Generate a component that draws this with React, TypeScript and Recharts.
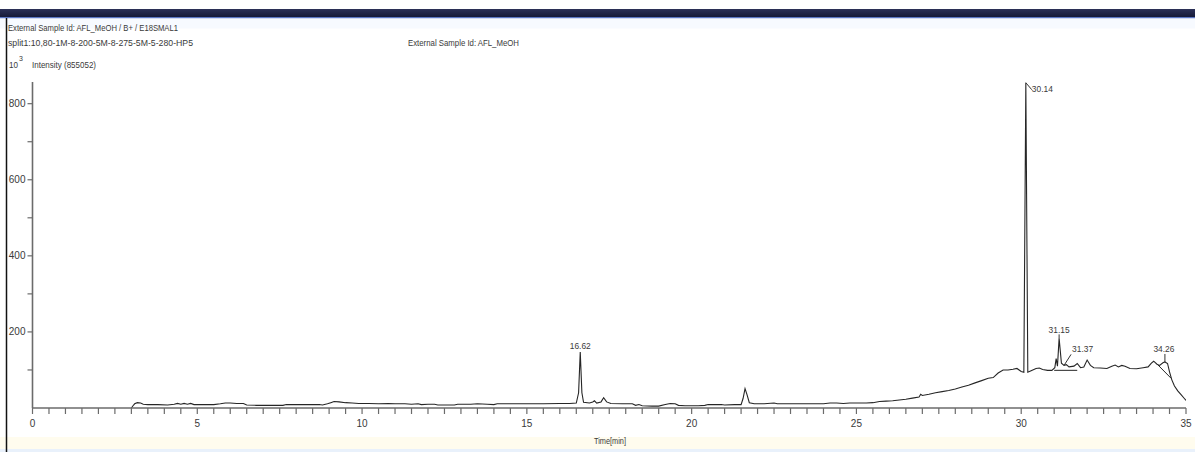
import React from 'react';
import { LineChart, Line, XAxis, YAxis, ReferenceDot } from 'recharts';

// chromatogram trace, time in minutes, intensity in 10^3 counts
const times = [
  3.0, 3.05, 3.1, 3.18, 3.28, 3.36, 3.5, 3.8, 4.1, 4.3, 4.4, 4.5, 4.6, 4.7, 4.8, 4.9,
  5.2, 5.5, 5.7, 5.85, 6.0, 6.2, 6.4, 6.5, 6.8, 7.2, 7.6, 7.7, 8.0, 8.4, 8.7, 8.8,
  8.95, 9.05, 9.15, 9.3, 9.5, 9.7, 9.9, 10.2, 10.5, 10.8, 11.0, 11.3, 11.5, 11.7, 11.8,
  12.0, 12.2, 12.3, 12.8, 12.9, 13.3, 13.5, 13.8, 14.0, 14.1, 14.5, 15.0, 15.5, 16.0,
  16.3, 16.5, 16.57, 16.62, 16.67, 16.72, 16.9, 17.0, 17.05, 17.12, 17.25, 17.33, 17.42,
  17.55, 17.9, 18.2, 18.3, 18.4, 18.5, 18.8, 19.0, 19.2, 19.35, 19.5, 19.6, 19.8, 20.2,
  20.4, 20.5, 20.9, 21.0, 21.3, 21.5, 21.56, 21.62, 21.68, 21.75, 21.9, 22.2, 22.5, 22.6,
  23.0, 23.5, 24.0, 24.2, 24.4, 24.6, 24.8, 25.0, 25.3, 25.5, 25.7, 25.9, 26.1, 26.3,
  26.5, 26.7, 26.9, 26.95, 27.0, 27.2, 27.4, 27.6, 27.8, 28.0, 28.2, 28.4, 28.6, 28.8,
  29.0, 29.15, 29.3, 29.45, 29.6, 29.75, 29.87, 30.0, 30.08, 30.14, 30.2, 30.3, 30.45,
  30.55, 30.65, 30.8, 30.93, 31.02, 31.06, 31.1, 31.15, 31.22, 31.3, 31.37, 31.45, 31.6,
  31.7, 31.8, 31.9, 32.0, 32.1, 32.2, 32.4, 32.6, 32.75, 32.85, 32.95, 33.05, 33.15, 33.3,
  33.5, 33.7, 33.85, 33.95, 34.02, 34.12, 34.2, 34.3, 34.36, 34.44, 34.5, 34.57, 34.65,
  34.75, 34.85, 34.95, 35.0,
];
const intensity = [
  0, 6, 11, 14, 13, 10, 9, 9, 8, 10, 12, 10, 12, 10, 12, 9,
  9, 9, 11, 13, 13, 12, 12, 8, 7, 7, 7, 9, 9, 9, 9, 8,
  11, 14, 17, 16, 14, 13, 12, 12, 11, 12, 11, 11, 10, 11, 9,
  10, 10, 8, 8, 10, 10, 11, 10, 9, 11, 11, 11, 11, 12,
  12, 13, 40, 147, 40, 15, 13, 16, 19, 13, 16, 27, 16,
  12, 11, 11, 7, 9, 6, 5, 5, 9, 12, 11, 7, 6, 6,
  7, 9, 9, 8, 9, 9, 25, 51, 35, 14, 11, 11, 13, 11,
  11, 11, 11, 13, 13, 12, 13, 13, 13, 14, 17, 18, 19, 21,
  23, 26, 29, 36, 33, 36, 40, 43, 46, 50, 55, 60, 66, 72,
  78, 80, 92, 100, 100, 102, 104, 96, 94, 855, 94, 98, 104,
  105, 101, 99, 99, 106, 130, 110, 183, 118, 112, 114, 108, 110,
  117, 106, 108, 126, 112, 106, 105, 104, 110, 113, 108, 112, 110, 104,
  103, 106, 108, 118, 123, 115, 112, 119, 121, 117, 95, 74, 58,
  45, 35, 25, 20,
];

// integration baselines drawn under the peak clusters
const baseTimes = [31.0, 31.7, 31.71, 34.15, 34.55];
const baseValues = [99, 99, null, 113, 78];

const peakTimes = [16.62, 30.14, 31.15, 31.3, 34.36];
const peakHeights = [147, 855, 183, 112, 121];
const peakLabels = ['16.62', '30.14', '31.15', '31.37', '34.26'];

const xTicks = [
  0, 0.5, 1, 1.5, 2, 2.5, 3, 3.5, 4, 4.5, 5, 5.5, 6, 6.5, 7, 7.5, 8, 8.5, 9, 9.5,
  10, 10.5, 11, 11.5, 12, 12.5, 13, 13.5, 14, 14.5, 15, 15.5, 16, 16.5, 17, 17.5,
  18, 18.5, 19, 19.5, 20, 20.5, 21, 21.5, 22, 22.5, 23, 23.5, 24, 24.5, 25, 25.5,
  26, 26.5, 27, 27.5, 28, 28.5, 29, 29.5, 30, 30.5, 31, 31.5, 32, 32.5, 33, 33.5,
  34, 34.5, 35,
];
const xLabels = [0, 5, 10, 15, 20, 25, 30, 35];
const yTicks = [100, 200, 300, 400, 500, 600, 700, 800];
const yLabels = [200, 400, 600, 800];

const trace = times.map((t, i) => ({ t, v: intensity[i] }));
const baseline = baseTimes.map((t, i) => ({ t, v: baseValues[i] }));

const FONT = "'Liberation Sans Narrow', 'Arial Narrow', 'Liberation Sans', Arial, sans-serif";
const TEXT = '#3a3a3a';
const AXIS = '#6b6b6b';

// where each peak label sits relative to its apex
const labelPlace: Record<string, { lx: number; ly: number; tx: number; ty: number; anchor: string }> = {
  '16.62': { lx: 0, ly: 0, tx: 0, ty: -3, anchor: 'middle' },
  '30.14': { lx: 6, ly: 7, tx: 6, ty: 9, anchor: 'start' },
  '31.15': { lx: 0, ly: -4, tx: 0, ty: -5, anchor: 'middle' },
  '31.37': { lx: 7, ly: -11, tx: 8, ty: -13, anchor: 'start' },
  '34.26': { lx: 0, ly: -8, tx: -1, ty: -10, anchor: 'middle' },
};

function peakShape(label: string) {
  const p = labelPlace[label];
  return (props: any) => {
    const { cx, cy } = props;
    return (
      <g>
        {(p.lx !== 0 || p.ly !== 0) && (
          <line x1={cx} y1={cy} x2={cx + p.lx} y2={cy + p.ly} stroke="#333" strokeWidth={1} />
        )}
        <text
          x={cx + p.tx}
          y={cy + p.ty}
          textAnchor={p.anchor as any}
          fontFamily={FONT}
          fontSize={9.5}
          fill={TEXT}
          textLength={21}
          lengthAdjust="spacingAndGlyphs"
        >
          {label}
        </text>
      </g>
    );
  };
}

function XTick(props: any) {
  const { x, y, payload } = props;
  if (!xLabels.includes(payload.value)) return <g />;
  return (
    <text x={x} y={y + 11} textAnchor="middle" fontFamily={FONT} fontSize={10} fill={TEXT}>
      {payload.value}
    </text>
  );
}

function YTick(props: any) {
  const { x, y, payload } = props;
  if (!yLabels.includes(payload.value)) return <g />;
  return (
    <text x={x} y={y + 3.5} textAnchor="end" fontFamily={FONT} fontSize={10} fill={TEXT}>
      {payload.value}
    </text>
  );
}

export default function App() {
  return (
    <div style={{ position: 'absolute', left: 0, top: 0, width: 1195, height: 452, background: '#fff', overflow: 'hidden' }}>
      <svg width={1195} height={452} style={{ position: 'absolute', left: 0, top: 0 }}>
        <defs>
          <linearGradient id="bar" x1="0" y1="0" x2="0" y2="1">
            <stop offset="0%" stopColor="#2c3158" />
            <stop offset="100%" stopColor="#161a38" />
          </linearGradient>
        </defs>
        <rect x={0} y={9} width={1195} height={8} fill="url(#bar)" />
        <rect x={0} y={17} width={1195} height={1.5} fill="#5b77c4" />
        <rect x={0} y={18.5} width={1195} height={10} fill="#f7faff" />
        <rect x={0} y={437} width={1195} height={12} fill="#fffcee" />
        <rect x={0} y={449} width={1195} height={3} fill="#e9f1fb" />
        <line x1={6.5} y1={18} x2={6.5} y2={452} stroke="#111" strokeWidth={1.5} />
        <g fontFamily={FONT} fill={TEXT} fontSize={9.5}>
          <text x={8} y={31} textLength={170} lengthAdjust="spacingAndGlyphs">
            External Sample Id: AFL_MeOH / B+ / E18SMAL1
          </text>
          <text x={8} y={46} textLength={185} lengthAdjust="spacingAndGlyphs">
            split1:10,80-1M-8-200-5M-8-275-5M-5-280-HP5
          </text>
          <text x={408} y={46} textLength={111} lengthAdjust="spacingAndGlyphs">
            External Sample Id: AFL_MeOH
          </text>
          <text x={9} y={68} textLength={9} lengthAdjust="spacingAndGlyphs">10</text>
          <text x={19} y={61} fontSize={7}>3</text>
          <text x={32} y={68} textLength={64} lengthAdjust="spacingAndGlyphs">
            Intensity (855052)
          </text>
          <text x={594} y={444} textLength={32} lengthAdjust="spacingAndGlyphs">
            Time[min]
          </text>
        </g>
      </svg>
      <div style={{ position: 'absolute', left: 0, top: 0 }}>
        <LineChart width={1195} height={452} margin={{ top: 82, right: 9, bottom: 14, left: 0 }}>
          <XAxis
            dataKey="t"
            type="number"
            domain={[0, 35]}
            ticks={xTicks}
            interval={0}
            height={30}
            tickSize={6}
            tickMargin={2}
            axisLine={{ stroke: AXIS, strokeWidth: 1.6 }}
            tickLine={{ stroke: AXIS, strokeWidth: 1.2 }}
            tick={<XTick />}
            allowDataOverflow
          />
          <YAxis
            type="number"
            domain={[0, 857]}
            ticks={yTicks}
            interval={0}
            width={32.5}
            tickSize={5}
            tickMargin={2}
            axisLine={{ stroke: AXIS, strokeWidth: 1.6 }}
            tickLine={{ stroke: AXIS, strokeWidth: 1.2 }}
            tick={<YTick />}
            allowDataOverflow
          />
          <Line
            data={trace}
            dataKey="v"
            type="linear"
            stroke="#262626"
            strokeWidth={1.1}
            dot={false}
            isAnimationActive={false}
          />
          <Line
            data={baseline}
            dataKey="v"
            type="linear"
            stroke="#262626"
            strokeWidth={1}
            dot={false}
            connectNulls={false}
            isAnimationActive={false}
          />
          {peakTimes.map((t, i) => (
            <ReferenceDot
              key={peakLabels[i]}
              x={t}
              y={peakHeights[i]}
              r={0}
              shape={peakShape(peakLabels[i])}
            />
          ))}
        </LineChart>
      </div>
    </div>
  );
}
